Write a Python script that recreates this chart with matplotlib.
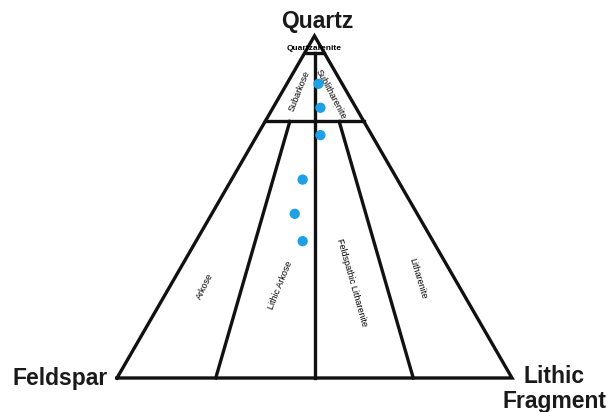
import numpy as np
import matplotlib

matplotlib.use("Agg")
import matplotlib.pyplot as plt

# Folk (1980) QFL classification boundaries
q_limits = [0.95, 0.75]            # quartz fraction of the horizontal lines
fl_ratios = [0.25, 0.50, 0.75]     # L/(F+L) of the lines running to the Q apex

# sample compositions (fractions of Q, F, L)
sample_q = [0.86, 0.79, 0.71, 0.58, 0.48, 0.40]
sample_f = [0.06, 0.09, 0.13, 0.24, 0.31, 0.33]
sample_l = [0.08, 0.12, 0.16, 0.18, 0.21, 0.27]

# field labels: name, (Q, L/(F+L)), rotation
field_labels = [
    ("Quartzarenite", (0.962, 0.50), 0),
    ("Subarkose", (0.84, 0.26), 68),
    ("Sublitharenite", (0.83, 0.74), -62),
    ("Arkose", (0.268, 0.12), 64),
    ("Lithic Arkose", (0.27, 0.38), 68),
    ("Feldspathic Litharenite", (0.278, 0.63), -74),
    ("Litharenite", (0.29, 0.87), -73),
]

SQ3 = np.sqrt(3) / 2
PX = 1 / 395  # one pixel in data units


def to_xy(q, l):
    """Ternary (Q, L) fractions -> cartesian, F at origin, L at (1, 0)."""
    q = np.asarray(q, dtype=float)
    l = np.asarray(l, dtype=float)
    return l + q / 2, q * SQ3


def ratio_xy(q, r):
    """Point at quartz fraction q on the line with L/(F+L) = r."""
    return to_xy(q, (1 - q) * r)


fig = plt.figure(figsize=(6.09, 4.12), dpi=100)
ax = fig.add_axes([0, 0, 1, 1])
ax.set_xlim(-117 * PX, 492 * PX)
ax.set_ylim(-34 * PX, 378 * PX)
ax.axis("off")

kw = dict(color="#111111", lw=2.4, solid_capstyle="projecting", zorder=2)

# outer triangle
tx, ty = to_xy([0, 1, 0, 0], [0, 0, 1, 0])
ax.plot(tx, ty, solid_joinstyle="miter", **kw)

# horizontal boundaries
for q in q_limits:
    x0, y0 = to_xy(q, 0)
    x1, y1 = to_xy(q, 1 - q)
    ax.plot([x0, x1], [y0, y1], **kw)

# lines toward the Q apex
for r in fl_ratios:
    q_top = q_limits[0] if r == 0.5 else q_limits[1]
    x0, y0 = ratio_xy(q_top, r)
    x1, y1 = ratio_xy(0, r)
    ax.plot([x0, x1], [y0, y1], **kw)

for name, (q, r), rot in field_labels:
    x, y = ratio_xy(q, r)
    ax.text(x, y, name, rotation=rot, fontsize=6.5 if rot else 6,
            family="Liberation Sans", ha="center", va="center",
            rotation_mode="anchor", zorder=3,
            fontweight="bold" if rot == 0 else "normal")

# samples
sx, sy = to_xy(sample_q, sample_l)
ax.scatter(sx, sy, s=55, color="#1e9fe6", edgecolors="none", zorder=4)

# apex labels
lab = dict(fontsize=16.5, fontweight="bold", family="Liberation Sans",
           color="#1a1a1a", va="baseline")
qx, qy = to_xy(1, 0)
ax.text(qx + 3 * PX, qy + 8 * PX, "Quartz", ha="center", **lab)
fx, fy = to_xy(0, 0)
ax.text(fx - 9 * PX, fy - 7 * PX, "Feldspar", ha="right", **lab)
lx, ly = to_xy(0, 1)
ax.text(lx + 42 * PX, ly - 5 * PX, "Lithic", ha="center", **lab)
ax.text(lx + 42 * PX, ly - 30 * PX, "Fragment", ha="center", **lab)

fig.savefig("out.png", dpi=100)
